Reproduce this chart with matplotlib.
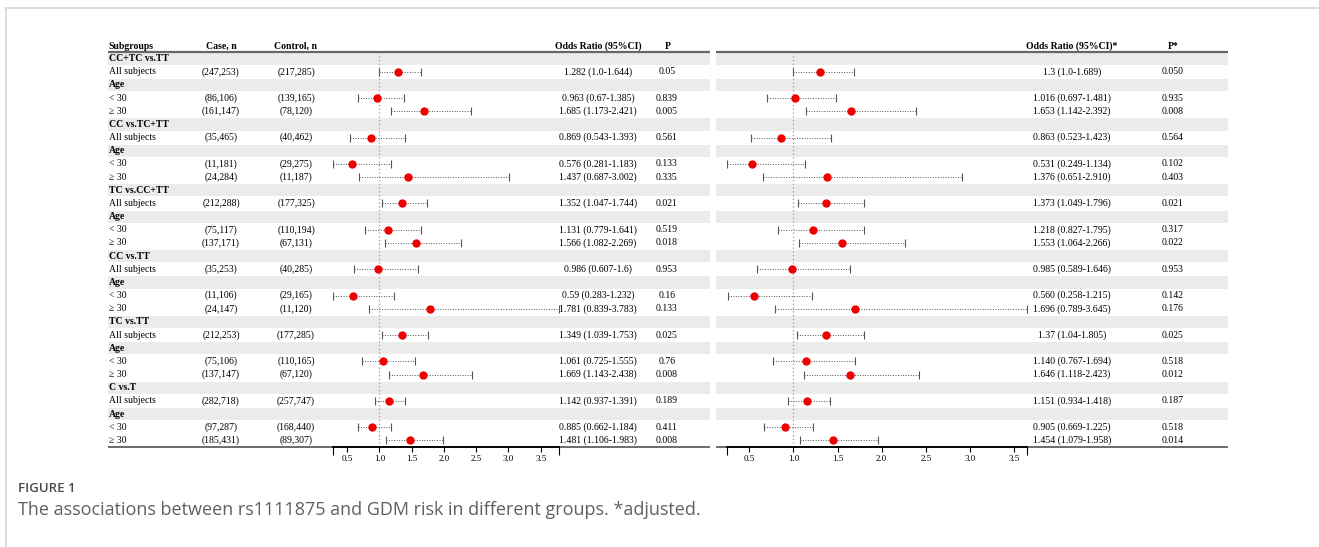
import matplotlib
matplotlib.use("Agg")
import matplotlib.pyplot as plt
import numpy as np

plt.rcParams['font.family'] = ['Liberation Serif', 'DejaVu Serif']

# --- data ---
groups = ["CC+TC vs.TT", "CC vs.TC+TT", "TC vs.CC+TT", "CC vs.TT", "TC vs.TT", "C vs.T"]
sub_labels = ["All subjects", "< 30", "\u2265 30"]

case_n = ["(247,253)", "(86,106)", "(161,147)",
          "(35,465)", "(11,181)", "(24,284)",
          "(212,288)", "(75,117)", "(137,171)",
          "(35,253)", "(11,106)", "(24,147)",
          "(212,253)", "(75,106)", "(137,147)",
          "(282,718)", "(97,287)", "(185,431)"]
control_n = ["(217,285)", "(139,165)", "(78,120)",
             "(40,462)", "(29,275)", "(11,187)",
             "(177,325)", "(110,194)", "(67,131)",
             "(40,285)", "(29,165)", "(11,120)",
             "(177,285)", "(110,165)", "(67,120)",
             "(257,747)", "(168,440)", "(89,307)"]

# crude odds ratios
or_crude = [1.282, 0.963, 1.685, 0.869, 0.576, 1.437, 1.352, 1.131, 1.566,
            0.986, 0.59, 1.781, 1.349, 1.061, 1.669, 1.142, 0.885, 1.481]
lo_crude = [1.0, 0.67, 1.173, 0.543, 0.281, 0.687, 1.047, 0.779, 1.082,
            0.607, 0.283, 0.839, 1.039, 0.725, 1.143, 0.937, 0.662, 1.106]
hi_crude = [1.644, 1.385, 2.421, 1.393, 1.183, 3.002, 1.744, 1.641, 2.269,
            1.6, 1.232, 3.783, 1.753, 1.555, 2.438, 1.391, 1.184, 1.983]
or_crude_txt = ["1.282 (1.0-1.644)", "0.963 (0.67-1.385)", "1.685 (1.173-2.421)",
                "0.869 (0.543-1.393)", "0.576 (0.281-1.183)", "1.437 (0.687-3.002)",
                "1.352 (1.047-1.744)", "1.131 (0.779-1.641)", "1.566 (1.082-2.269)",
                "0.986 (0.607-1.6)", "0.59 (0.283-1.232)", "1.781 (0.839-3.783)",
                "1.349 (1.039-1.753)", "1.061 (0.725-1.555)", "1.669 (1.143-2.438)",
                "1.142 (0.937-1.391)", "0.885 (0.662-1.184)", "1.481 (1.106-1.983)"]
p_crude = ["0.05", "0.839", "0.005", "0.561", "0.133", "0.335",
           "0.021", "0.519", "0.018", "0.953", "0.16", "0.133",
           "0.025", "0.76", "0.008", "0.189", "0.411", "0.008"]

# adjusted odds ratios
or_adj = [1.3, 1.016, 1.653, 0.863, 0.531, 1.376, 1.373, 1.218, 1.553,
          0.985, 0.560, 1.696, 1.37, 1.140, 1.646, 1.151, 0.905, 1.454]
lo_adj = [1.0, 0.697, 1.142, 0.523, 0.249, 0.651, 1.049, 0.827, 1.064,
          0.589, 0.258, 0.789, 1.04, 0.767, 1.118, 0.934, 0.669, 1.079]
hi_adj = [1.689, 1.481, 2.392, 1.423, 1.134, 2.910, 1.796, 1.795, 2.266,
          1.646, 1.215, 3.645, 1.805, 1.694, 2.423, 1.418, 1.225, 1.958]
or_adj_txt = ["1.3 (1.0-1.689)", "1.016 (0.697-1.481)", "1.653 (1.142-2.392)",
              "0.863 (0.523-1.423)", "0.531 (0.249-1.134)", "1.376 (0.651-2.910)",
              "1.373 (1.049-1.796)", "1.218 (0.827-1.795)", "1.553 (1.064-2.266)",
              "0.985 (0.589-1.646)", "0.560 (0.258-1.215)", "1.696 (0.789-3.645)",
              "1.37 (1.04-1.805)", "1.140 (0.767-1.694)", "1.646 (1.118-2.423)",
              "1.151 (0.934-1.418)", "0.905 (0.669-1.225)", "1.454 (1.079-1.958)"]
p_adj = ["0.050", "0.935", "0.008", "0.564", "0.102", "0.403",
         "0.021", "0.317", "0.022", "0.953", "0.142", "0.176",
         "0.025", "0.518", "0.012", "0.187", "0.518", "0.014"]

ticks = [0.5, 1.0, 1.5, 2.0, 2.5, 3.0, 3.5]

# --- build row layout: header, All subjects, Age, <30, >=30 for each group ---
rows = []  # (label, bold, data index or None)
k = 0
for g in groups:
    rows.append((g, True, None))
    rows.append((sub_labels[0], False, k)); k += 1
    rows.append(("Age", True, None))
    rows.append((sub_labels[1], False, k)); k += 1
    rows.append((sub_labels[2], False, k)); k += 1
nrows = len(rows)

W, H = 1319, 547
fig = plt.figure(figsize=(W / 100, H / 100), dpi=100)
bg = fig.add_axes([0, 0, 1, 1])
bg.set_xlim(0, W)
bg.set_ylim(H, 0)
bg.axis('off')

top, bot = 52, 447
rh = (bot - top) / nrows
L0, L1 = 108, 710
R0, R1 = 716, 1228
fs = 7.0

# outer frame
bg.plot([6, W], [8, 8], color='#d6d6d6', lw=1.2)
bg.plot([6, 6], [8, H], color='#d6d6d6', lw=1.2)

# bands + row text
for i, (lab, bold, idx) in enumerate(rows):
    y = top + (i + 0.5) * rh
    if idx is None:
        for a, b in [(L0, L1), (R0, R1)]:
            bg.fill_between([a, b], top + i * rh + 0.5, top + (i + 1) * rh - 0.5,
                            color='#ebebeb', lw=0, zorder=0)
    bg.text(L0 + 1, y, lab, fontsize=fs, fontweight='bold' if bold else 'normal',
            va='center', ha='left')
    if idx is not None:
        bg.text(221, y, case_n[idx], fontsize=fs, va='center', ha='center')
        bg.text(296, y, control_n[idx], fontsize=fs, va='center', ha='center')
        bg.text(598, y, or_crude_txt[idx], fontsize=fs, va='center', ha='center')
        bg.text(667, y, p_crude[idx], fontsize=fs, va='center', ha='center')
        bg.text(1072, y, or_adj_txt[idx], fontsize=fs, va='center', ha='center')
        bg.text(1173, y, p_adj[idx], fontsize=fs, va='center', ha='center')

# header
hy = 46.5
for x, t, ha in [(L0, "Subgroups", 'left'), (221, "Case, n", 'center'),
                 (296, "Control, n", 'center'), (598, "Odds Ratio (95%CI)", 'center'),
                 (668, "P", 'center'), (1072, "Odds Ratio (95%CI)*", 'center'),
                 (1173, "P*", 'center')]:
    bg.text(x, hy, t, fontsize=fs, fontweight='bold', ha=ha, va='center')

for a, b in [(L0, L1), (R0, R1)]:
    bg.plot([a, b], [top, top], color='#666666', lw=1.6, solid_capstyle='butt')
    bg.plot([a, b], [bot, bot], color='#444444', lw=1.1, solid_capstyle='butt')

# caption
bg.text(18, 488, "FIGURE 1", family='Open Sans', fontsize=9.5, color='#4a4a4a',
        fontweight='semibold', va='center', ha='left')
bg.text(18, 510, "The associations between rs1111875 and GDM risk in different groups. *adjusted.",
        family='Open Sans', fontsize=13, color='#606060', va='center', ha='left')


def forest(x0, x1, est, lo, hi):
    ax = fig.add_axes([x0 / W, (H - bot) / H, (x1 - x0) / W, (bot - top) / H])
    ax.set_facecolor('none')
    xmin, xmax = min(lo), max(hi)
    ax.set_xlim(xmin, xmax)
    ax.set_ylim(nrows, 0)
    ax.axvline(1.0, color='#9a9a9a', lw=0.9, ls=(0, (1, 2)))
    for i, (lab, bold, idx) in enumerate(rows):
        if idx is None:
            continue
        y = i + 0.5
        ax.plot([lo[idx], hi[idx]], [y, y], color='#555555', lw=0.7, ls=(0, (1, 1.6)))
        ax.plot([lo[idx], hi[idx]], [y, y], ls='none', marker='|', ms=5.5,
                mew=0.8, color='#555555')
        ax.plot(est[idx], y, 'o', color='#ee0000', ms=5)
    for s in ['top', 'left', 'right']:
        ax.spines[s].set_visible(False)
    ax.spines['bottom'].set_linewidth(1.3)
    ax.set_yticks([])
    ax.set_xticks(ticks)
    ax.set_xticklabels([f"{t:.1f}" for t in ticks])
    ax.set_xticks([xmin, xmax], minor=True)
    ax.tick_params(axis='x', which='major', length=3.5, width=0.8, labelsize=6.5, pad=2)
    ax.tick_params(axis='x', which='minor', length=6, width=0.8)
    return ax


forest(333, 559, or_crude, lo_crude, hi_crude)
forest(727, 1027, or_adj, lo_adj, hi_adj)

fig.savefig("out.png", dpi=100)
